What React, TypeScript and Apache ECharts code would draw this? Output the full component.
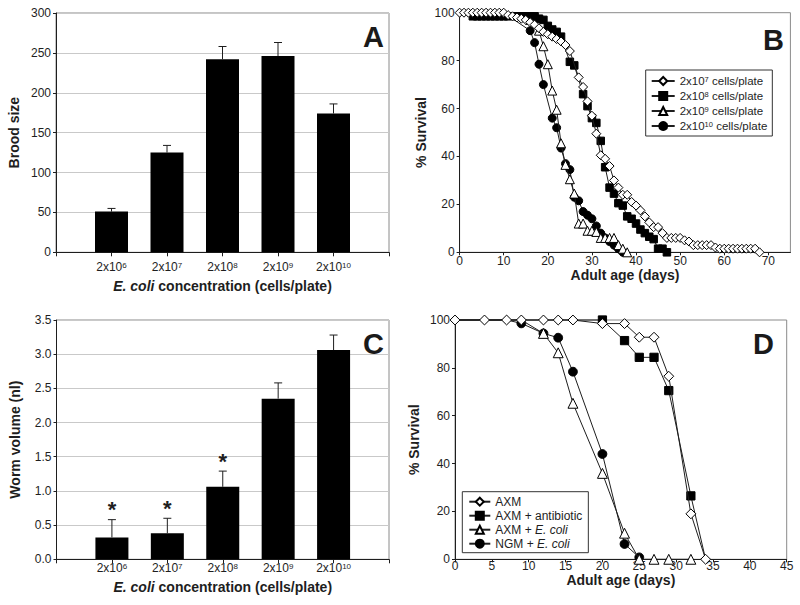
import React, { useEffect, useRef } from 'react';
import * as echarts from 'echarts';

const FONT = '"Liberation Sans", Arial, Helvetica, sans-serif';
const INK = '#1e1e1e';

// ---- Panel A / C : bar data ----
const concentrationExps = ['6', '7', '8', '9', '10'];
const broodSize = [51, 125, 242, 246, 174];
const broodSizeErr = [4, 9, 16, 17, 12];
const wormVolume = [0.32, 0.38, 1.06, 2.35, 3.06];
const wormVolumeErr = [0.26, 0.22, 0.23, 0.23, 0.22];
const wormVolumeStar = [true, true, true, false, false];

// ---- Panel B : survival by bacterial density ----
const densityExps = ['7', '8', '9', '10'];
const densityNames = ['2x10^7 cells/plate', '2x10^8 cells/plate', '2x10^9 cells/plate', '2x10^10 cells/plate'];
const survival2e7: [number, number][] = [
  [0, 100], [1, 100], [2, 100], [3, 100], [4, 100], [5, 100], [6, 100], [7, 100], [8, 100], [9, 100], [10, 100],
  [11, 99], [12, 98.5], [13, 98], [14, 97.5], [15, 97], [16, 96], [17, 95], [18, 93.5], [19, 92], [20, 91],
  [21, 90], [22, 89], [23, 88], [24, 86.5], [25, 84], [27, 73], [28, 69], [29, 63], [30, 57], [31, 49.5],
  [32, 40.5], [33, 39], [34, 36], [35, 30], [36, 27], [37, 24], [38, 24], [39, 21], [40, 19.5], [41, 17.5],
  [42, 15], [43, 12.5], [44, 10.5], [45, 10.5], [46, 8], [47, 6], [48, 6], [49, 6], [50, 6], [51, 5], [52, 4.5],
  [53, 3], [54, 3], [55, 3], [56, 3], [57, 3], [58, 2], [59, 1.5], [60, 1.5], [61, 1.5], [62, 1.5], [63, 1.5],
  [64, 1.5], [65, 1.5], [66, 1.5], [67, 1.5], [68, 0],
];
const survival2e8: [number, number][] = [
  [0, 100], [1, 100], [2, 100], [3, 98.5], [4, 98.5], [5, 98.5], [6, 98.5], [7, 98.5], [8, 98.5], [9, 98.5],
  [10, 98.5], [11, 98.5], [12, 98.5], [13, 98.5], [14, 98.5], [15, 98.5], [16, 98.5], [17, 98.5], [18, 97.5],
  [19, 97], [20, 94.5], [21, 93], [22, 92], [23, 90], [25, 79.5], [26, 78], [28, 66], [29, 61], [30, 56],
  [31, 54], [32, 46.5], [33, 35.5], [34, 27], [35, 24.5], [36, 20.5], [37, 19.5], [38, 15], [39, 14], [40, 12],
  [41, 9.5], [42, 8], [43, 6.5], [44, 5.5], [45, 1.5], [46, 1.5], [47, 0],
];
const survival2e9: [number, number][] = [
  [0, 100], [10, 100], [16, 97], [18, 92.5], [19, 86], [20, 78.5], [21, 67.5], [22, 59.5], [23, 45.5], [24, 36.5],
  [25, 30.5], [26, 24.5], [27, 12], [28, 12], [29, 9], [30, 9], [31, 8.5], [32, 6], [33, 6], [34, 6], [35, 6],
  [36, 3], [37, 1.5], [38, 0],
];
const survival2e10: [number, number][] = [
  [0, 100], [10, 100], [16, 92.5], [17, 87.5], [18, 78.5], [19, 70], [21, 56], [22, 52], [23, 43.5], [24, 37],
  [25, 34.5], [26, 23], [27, 21.5], [28, 17], [29, 15.5], [30, 14], [31, 11], [32, 8], [33, 6], [34, 4.5],
  [35, 3], [36, 1.5], [37, 0],
];

// ---- Panel D : survival by medium ----
const mediumNames = ['AXM', 'AXM + antibiotic', 'AXM + E. coli', 'NGM + E. coli'];
const survivalAXM: [number, number][] = [
  [0, 100], [4, 100], [7, 100], [9, 100], [12, 100], [14, 100], [16, 100], [20, 98.5], [23, 98.5], [25, 92.8],
  [27, 92.8], [29, 76.5], [32, 19], [34, 0],
];
const survivalAntibiotic: [number, number][] = [
  [0, 100], [4, 100], [7, 100], [9, 100], [12, 100], [14, 100], [16, 100], [20, 100], [23, 91.4], [25, 84.4],
  [27, 84.4], [29, 70.5], [32, 26.5], [34, 0],
];
const survivalAXMEcoli: [number, number][] = [
  [0, 100], [4, 100], [7, 100], [9, 100], [12, 94.4], [14, 86.3], [16, 65.2], [20, 35.9], [23, 10.9], [25, 0],
  [27, 0], [29, 0], [32, 0],
];
const survivalNGMEcoli: [number, number][] = [
  [0, 100], [4, 100], [7, 100], [9, 98.6], [12, 94.4], [14, 92.6], [16, 78.4], [20, 44], [23, 6.4], [25, 0.8],
];

const markers = [
  { symbol: 'diamond', filled: false },
  { symbol: 'rect', filled: true },
  { symbol: 'triangle', filled: false },
  { symbol: 'circle', filled: true },
];
const markerSize = { diamond: 9, rect: 7.5, triangle: 9, circle: 8 } as Record<string, number>;

function hideUnder(points: [number, number][], top: [number, number][]) {
  return points.map(([x, y]) => {
    const same = top.some(([tx, ty]) => tx === x && ty === y);
    return same ? { value: [x, y], symbol: 'none' } : [x, y];
  });
}

function lineSeries(name: string, data: any[], idx: number, axis: number, scale: number) {
  const m = markers[idx];
  return {
    type: 'line',
    name,
    xAxisIndex: axis,
    yAxisIndex: axis,
    data,
    symbol: m.symbol,
    symbolSize: markerSize[m.symbol] * scale,
    showSymbol: true,
    showAllSymbol: true,
    clip: false,
    z: 10 - idx,
    lineStyle: { color: INK, width: 1 },
    itemStyle: { color: m.filled ? '#000' : '#fff', borderColor: '#000', borderWidth: 1 },
    emphasis: { disabled: true },
  };
}

function errorSeries(axis: number, values: number[], errs: number[], stars?: boolean[]) {
  return {
    type: 'custom',
    xAxisIndex: axis,
    yAxisIndex: axis,
    z: 5,
    data: values.map((v, i) => [i + 1, v, v + errs[i], stars && stars[i] ? 1 : 0]),
    renderItem: (_p: any, api: any) => {
      const base = api.coord([api.value(0), api.value(1)]);
      const top = api.coord([api.value(0), api.value(2)]);
      const children: any[] = [
        { type: 'line', shape: { x1: top[0], y1: top[1], x2: base[0], y2: base[1] }, style: { stroke: INK, lineWidth: 1 } },
        { type: 'line', shape: { x1: top[0] - 4, y1: top[1], x2: top[0] + 4, y2: top[1] }, style: { stroke: INK, lineWidth: 1 } },
      ];
      if (api.value(3) === 1) {
        children.push({
          type: 'text',
          style: {
            text: '*', x: top[0], y: top[1] - 10, align: 'center', verticalAlign: 'middle',
            fontSize: 22, fontWeight: 'bold', fontFamily: FONT, fill: INK,
          },
        });
      }
      return { type: 'group', children };
    },
  };
}

const supRich = {
  sup: { fontSize: 8, fontFamily: FONT, color: INK, verticalAlign: 'top', padding: [0, 0, 0, 0] },
};
const supRichLegend = {
  sup: { fontSize: 7.5, fontFamily: FONT, color: INK, verticalAlign: 'top', padding: [0, 0, 0, 0] },
};

function catAxis(grid: number, margin: number, nameGap: number) {
  return {
    type: 'value', gridIndex: grid, min: 0, max: 6, interval: 1,
    axisLine: { show: true, lineStyle: { color: INK, width: 1 } },
    axisTick: { show: true, length: 4, lineStyle: { color: INK } },
    splitLine: { show: false },
    axisLabel: {
      margin, fontSize: 12, color: INK, fontFamily: FONT,
      formatter: (v: number) => (v >= 1 && v <= 5 ? `2x10{sup|${concentrationExps[v - 1]}}` : ''),
      rich: supRich,
    },
    name: '{i|E. coli} concentration (cells/plate)',
    nameLocation: 'middle', nameGap,
    nameTextStyle: {
      fontSize: 14, fontWeight: 'bold', color: INK, fontFamily: FONT,
      rich: { i: { fontSize: 14, fontWeight: 'bold', fontStyle: 'italic', color: INK, fontFamily: FONT } },
    },
  };
}

function valAxis(grid: number, min: number, max: number, interval: number, opts: any) {
  return {
    type: 'value', gridIndex: grid, min, max, interval,
    axisLine: { show: true, lineStyle: { color: INK, width: 1 } },
    axisTick: { show: true, length: 3, lineStyle: { color: INK } },
    splitLine: { show: !!opts.split, lineStyle: { color: '#c9c9c9', width: 1 } },
    axisLabel: { margin: opts.margin ?? 5, fontSize: 12, color: INK, fontFamily: FONT, formatter: opts.fmt, showMaxLabel: opts.showMax ?? true },
    name: opts.name,
    nameLocation: 'middle', nameGap: opts.nameGap,
    nameTextStyle: { fontSize: 14, fontWeight: 'bold', color: INK, fontFamily: FONT },
  };
}

function panelLetter(text: string, x: number, y: number) {
  return {
    type: 'text', x, y, z: 100,
    style: { text, align: 'right', verticalAlign: 'top', fontSize: 29, fontWeight: 'bold', fontFamily: FONT, fill: '#1a1a1a' },
  };
}

function buildOption() {
  const gridStyle = { show: true, borderColor: '#8a8a8a', borderWidth: 1, backgroundColor: 'transparent', containLabel: false };
  const seriesB = [survival2e7, survival2e8, survival2e9, survival2e10].map((pts, i) =>
    lineSeries(densityNames[i], i === 0 ? pts : hideUnder(pts, survival2e7), i, 1, 1));
  const seriesD = [survivalAXM, survivalAntibiotic, survivalAXMEcoli, survivalNGMEcoli].map((pts, i) =>
    lineSeries(mediumNames[i], i === 0 ? pts : hideUnder(pts, survivalAXM), i, 3, 1.1));

  return {
    animation: false,
    backgroundColor: '#fff',
    textStyle: { fontFamily: FONT },
    grid: [
      { ...gridStyle, left: 56, top: 13, width: 333, height: 239.3 },
      { ...gridStyle, left: 459.6, top: 12.7, width: 330.8, height: 239.6 },
      { ...gridStyle, left: 56.5, top: 320, width: 332.5, height: 239.3 },
      { ...gridStyle, left: 455, top: 320, width: 331.7, height: 239.3 },
    ],
    xAxis: [
      catAxis(0, 9, 27),
      valAxis(1, 0, 75, 10, { name: 'Adult age (days)', nameGap: 16, margin: 3, fmt: (v: number) => (v % 10 === 0 ? String(v) : ''), showMax: false }),
      catAxis(2, 3, 21),
      valAxis(3, 0, 45, 5, { name: 'Adult age (days)', nameGap: 12, margin: 1 }),
    ],
    yAxis: [
      valAxis(0, 0, 300, 50, { name: 'Brood size', nameGap: 35, split: true, margin: 5 }),
      valAxis(1, 0, 100, 20, { name: '% Survival', nameGap: 32, margin: 5 }),
      valAxis(2, 0, 3.5, 0.5, { name: 'Worm volume (nl)', nameGap: 35, split: true, margin: 5, fmt: (v: number) => v.toFixed(1) }),
      valAxis(3, 0, 100, 20, { name: '% Survival', nameGap: 34, margin: 5 }),
    ],
    legend: [
      {
        orient: 'vertical', left: 645.7, top: 70, padding: [5, 5, 4, 5], itemGap: 3, itemWidth: 23, itemHeight: 10,
        borderColor: '#333', borderWidth: 1, selectedMode: false, data: densityNames,
        formatter: (name: string) => {
          const i = densityNames.indexOf(name);
          return `2x10{sup|${densityExps[i]}} cells/plate`;
        },
        textStyle: { fontSize: 11.5, color: INK, fontFamily: FONT, rich: supRichLegend },
      },
      {
        orient: 'vertical', left: 462.3, top: 491.7, padding: [4, 6, 3, 6], itemGap: 2, itemWidth: 21, itemHeight: 10,
        borderColor: '#333', borderWidth: 1, selectedMode: false, data: mediumNames,
        formatter: (name: string) => name.replace('E. coli', '{i|E. coli}'),
        textStyle: {
          fontSize: 12, color: INK, fontFamily: FONT,
          rich: { i: { fontSize: 12, fontStyle: 'italic', color: INK, fontFamily: FONT } },
        },
      },
    ],
    series: [
      { type: 'bar', xAxisIndex: 0, yAxisIndex: 0, barWidth: 33, data: broodSize.map((v, i) => [i + 1, v]), itemStyle: { color: '#000' }, z: 4 },
      errorSeries(0, broodSize, broodSizeErr),
      { type: 'bar', xAxisIndex: 2, yAxisIndex: 2, barWidth: 33, data: wormVolume.map((v, i) => [i + 1, v]), itemStyle: { color: '#000' }, z: 4 },
      errorSeries(2, wormVolume, wormVolumeErr, wormVolumeStar),
      ...seriesB,
      ...seriesD,
    ],
    graphic: [
      panelLetter('A', 384, 22.3),
      panelLetter('B', 784, 25.3),
      panelLetter('C', 384, 329.3),
      panelLetter('D', 774, 329.3),
    ],
  };
}

export default function App() {
  const ref = useRef<HTMLDivElement>(null);
  useEffect(() => {
    const chart = echarts.init(ref.current!, null, { renderer: 'svg' });
    chart.setOption(buildOption() as any);
    return () => chart.dispose();
  }, []);
  return (
    <div
      ref={ref}
      style={{ position: 'fixed', left: 0, top: 0, width: 800, height: 605, background: '#fff' }}
    />
  );
}
